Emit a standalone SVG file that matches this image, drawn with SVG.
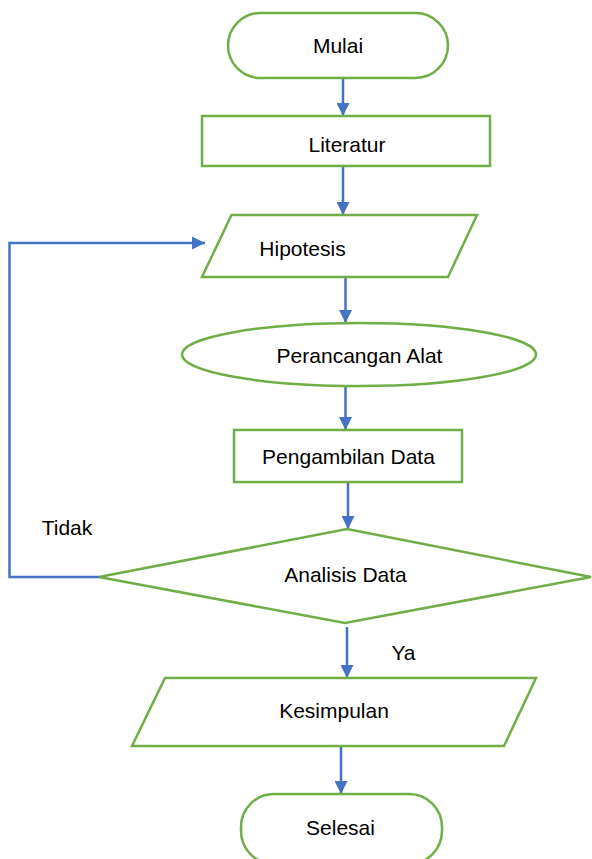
<svg xmlns="http://www.w3.org/2000/svg" width="592" height="859" viewBox="0 0 592 859">
<style>
.shape{fill:#fff;stroke:#70AD47;stroke-width:2.5}
.conn{fill:none;stroke:#4472C4;stroke-width:2.5}
text{font-family:"Liberation Sans",Arial,sans-serif;font-size:21px;fill:#000;text-anchor:middle}
</style>
<defs>
<marker id="arr" viewBox="0 0 10 10" refX="10" refY="5" markerWidth="14" markerHeight="13" markerUnits="userSpaceOnUse" orient="auto">
<path d="M0,0 L10,5 L0,10 z" fill="#4472C4"/>
</marker>
</defs>
<rect width="592" height="859" fill="#fff"/>
<g id="connectors">
<line class="conn" x1="343" y1="73" x2="343" y2="116" marker-end="url(#arr)"/>
<line class="conn" x1="343" y1="166" x2="343" y2="215" marker-end="url(#arr)"/>
<line class="conn" x1="345.5" y1="277" x2="345.5" y2="323" marker-end="url(#arr)"/>
<line class="conn" x1="345.5" y1="386" x2="345.5" y2="430" marker-end="url(#arr)"/>
<line class="conn" x1="348" y1="482" x2="348" y2="529" marker-end="url(#arr)"/>
<polyline class="conn" points="99,577 9.5,577 9.5,243 205,243" marker-end="url(#arr)"/>
<line class="conn" x1="347" y1="627" x2="347" y2="678" marker-end="url(#arr)"/>
<line class="conn" x1="341" y1="746" x2="341" y2="794" marker-end="url(#arr)"/>
</g>
<g id="mulai">
<rect class="shape" x="228" y="13" width="220" height="65" rx="32.5"/>
<text x="338" y="53">Mulai</text>
</g>
<g id="literatur">
<rect class="shape" x="202" y="116" width="288" height="50"/>
<text x="347" y="152">Literatur</text>
</g>
<g id="hipotesis">
<polygon class="shape" points="231.5,215 477,215 448,277 202,277"/>
<text x="302.5" y="256">Hipotesis</text>
</g>
<g id="perancangan">
<ellipse class="shape" cx="359" cy="354.5" rx="177" ry="31.5"/>
<text x="359.5" y="363">Perancangan Alat</text>
</g>
<g id="pengambilan">
<rect class="shape" x="234" y="430" width="228" height="52"/>
<text x="348.5" y="464">Pengambilan Data</text>
</g>
<g id="analisis">
<polygon class="shape" points="347,529 591,577 345,623 99,577"/>
<text x="345.5" y="582">Analisis Data</text>
</g>
<g id="label-tidak">
<text x="67" y="535">Tidak</text>
</g>
<g id="label-ya">
<text x="403.5" y="660">Ya</text>
</g>
<g id="kesimpulan">
<polygon class="shape" points="165,678 536,678 504,746 132,746"/>
<text x="334" y="718">Kesimpulan</text>
</g>
<g id="selesai">
<rect class="shape" x="241" y="794" width="201" height="70" rx="33"/>
<text x="340.5" y="835">Selesai</text>
</g>
</svg>
